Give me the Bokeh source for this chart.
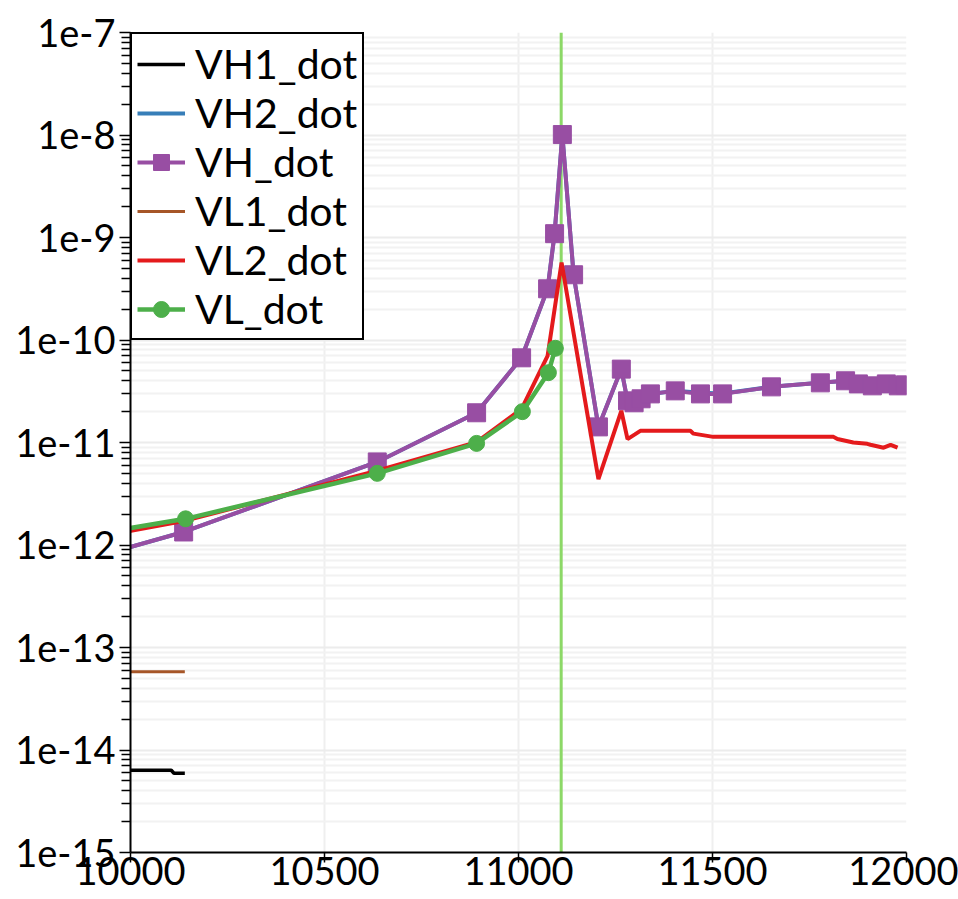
from bokeh.plotting import figure
from bokeh.models import (Range1d, FixedTicker, CustomJSTickFormatter, Span, Legend,
                          LegendItem)
from bokeh.embed import file_html
from bokeh.resources import INLINE

# ---------------- data ----------------
x_vh = [9880, 10137, 10636, 10892, 11008, 11075, 11093, 11113, 11142, 11206, 11265,
        11281, 11298, 11316, 11340, 11404, 11469, 11526, 11652, 11778, 11843, 11876,
        11912, 11948, 11979, 11997]
vh_dot = [7.1e-13, 1.34e-12, 6.46e-12, 1.95e-11, 6.7e-11, 3.16e-10, 1.09e-9, 1.01e-8,
          4.33e-10, 1.42e-11, 5.2e-11, 2.55e-11, 2.44e-11, 2.67e-11, 2.98e-11, 3.19e-11,
          2.98e-11, 2.98e-11, 3.49e-11, 3.82e-11, 4.0e-11, 3.73e-11, 3.57e-11, 3.73e-11,
          3.57e-11, 3.65e-11]
vh2_dot = [7.1e-13, 1.34e-12, 6.46e-12, 1.95e-11, 6.7e-11, 3.16e-10, 1.09e-9, 1.01e-8,
           4.33e-10, 1.42e-11, 5.2e-11, 2.55e-11, 2.44e-11, 2.67e-11, 2.98e-11, 3.19e-11,
           3.05e-11, 3.0e-11, 3.49e-11, 3.82e-11, 4.0e-11, 3.73e-11, 3.57e-11, 3.73e-11,
           3.57e-11, 3.65e-11]

x_vl = [9880, 10142, 10636, 10892, 11010, 11077, 11095]
vl_dot = [1.23e-12, 1.8e-12, 5.0e-12, 9.8e-12, 2.0e-11, 4.8e-11, 8.3e-11]

x_vl2 = [9880, 10137, 10636, 10892, 11008, 11075, 11111, 11206, 11265, 11281, 11300,
         11314, 11443, 11451, 11502, 11812, 11822, 11863, 11899, 11907, 11941, 11959,
         11977]
vl2_dot = [1.13e-12, 1.71e-12, 5.3e-12, 1.01e-11, 2.13e-11, 7.0e-11, 5.7e-10, 4.4e-12,
           2.04e-11, 1.08e-11, 1.2e-11, 1.3e-11, 1.3e-11, 1.22e-11, 1.135e-11, 1.135e-11,
           1.08e-11, 1.0e-11, 9.7e-12, 9.5e-12, 8.9e-12, 9.5e-12, 8.9e-12]

x_vl1 = [9880, 10140]
vl1_dot = [5.8e-14, 5.8e-14]

x_vh1 = [9880, 10105, 10112, 10140]
vh1_dot = [6.35e-15, 6.35e-15, 5.93e-15, 5.93e-15]

time_marker = 11110

x_ticks = [10000, 10500, 11000, 11500, 12000]
x_tick_labels = ["10000", "10500", "11000", "11500", "12000"]
y_ticks = [1e-15, 1e-14, 1e-13, 1e-12, 1e-11, 1e-10, 1e-9, 1e-8, 1e-7]
y_tick_labels = ["1e-15", "1e-14", "1e-13", "1e-12", "1e-11", "1e-10", "1e-9", "1e-8", "1e-7"]
y_minor = [k * 10.0 ** d for d in range(-15, -7) for k in range(2, 10)]

FONT = "Lato"

p = figure(width=958, height=899, output_backend="svg", toolbar_location=None,
           y_axis_type="log", x_range=Range1d(10000, 12000), y_range=Range1d(1e-15, 1e-7),
           min_border_left=130, min_border_right=52, min_border_top=32, min_border_bottom=47)
p.outline_line_color = None
p.background_fill_color = "white"

# axes
xt = FixedTicker(ticks=x_ticks)
yt = FixedTicker(ticks=y_ticks, minor_ticks=y_minor)
p.xaxis.ticker = xt
p.yaxis.ticker = yt
p.xgrid.ticker = xt
p.ygrid.ticker = yt

fmt_code = """
let best = 0, bd = Infinity;
for (let i = 0; i < tv.length; i++) {
  const d = Math.abs(tick - tv[i]) / Math.abs(tv[i]);
  if (d < bd) { bd = d; best = i; }
}
return tl[best];
"""
p.xaxis.formatter = CustomJSTickFormatter(args=dict(tv=x_ticks, tl=x_tick_labels), code=fmt_code)
p.yaxis.formatter = CustomJSTickFormatter(args=dict(tv=y_ticks, tl=y_tick_labels), code=fmt_code)

for ax in (p.xaxis[0], p.yaxis[0]):
    ax.axis_line_color = "black"
    ax.axis_line_width = 2
    ax.major_tick_line_color = "black"
    ax.major_tick_line_width = 1.5
    ax.minor_tick_line_color = "black"
    ax.minor_tick_line_width = 1.5
    ax.major_tick_in = 0
    ax.minor_tick_in = 0
    ax.major_label_text_font = FONT
    ax.major_label_text_font_size = "38px"
    ax.major_label_text_color = "black"

p.yaxis.major_tick_out = 11
p.yaxis.minor_tick_out = 9
p.yaxis.major_label_standoff = 4
p.xaxis.major_tick_out = 10
p.xaxis.minor_tick_out = 0
p.xaxis.major_label_standoff = -6

p.xgrid.grid_line_color = "#efefef"
p.xgrid.grid_line_width = 2
p.ygrid.grid_line_color = "#ececec"
p.ygrid.grid_line_width = 2
p.ygrid.minor_grid_line_color = "#f2f2f2"
p.ygrid.minor_grid_line_width = 2

# time marker
p.add_layout(Span(location=time_marker, dimension="height", line_color="#8cd867", line_width=3,
                  level="underlay"))

# series
r_vh1 = p.line(x_vh1, vh1_dot, line_color="black", line_width=3.5)
r_vh2 = p.line(x_vh, vh2_dot, line_color="#377eb8", line_width=4)
r_vh = p.line(x_vh, vh_dot, line_color="#984ea3", line_width=4)
r_vh_m = p.scatter(x_vh, vh_dot, marker="square", size=18, fill_color="#984ea3",
                   line_color="#984ea3")
r_vl1 = p.line(x_vl1, vl1_dot, line_color="#a65628", line_width=3)
r_vl2 = p.line(x_vl2, vl2_dot, line_color="#e41a1c", line_width=4)
r_vl = p.line(x_vl, vl_dot, line_color="#4daf4a", line_width=4.5)
r_vl_m = p.scatter(x_vl, vl_dot, marker="circle", size=16, fill_color="#4daf4a",
                   line_color="#4daf4a")

legend = Legend(items=[
    LegendItem(label="VH1_dot", renderers=[r_vh1]),
    LegendItem(label="VH2_dot", renderers=[r_vh2]),
    LegendItem(label="VH_dot", renderers=[r_vh, r_vh_m]),
    LegendItem(label="VL1_dot", renderers=[r_vl1]),
    LegendItem(label="VL2_dot", renderers=[r_vl2]),
    LegendItem(label="VL_dot", renderers=[r_vl, r_vl_m]),
], location="top_left", margin=0, padding=5, spacing=0,
   glyph_width=48, glyph_height=40, label_height=40, label_standoff=10,
   label_text_font=FONT, label_text_font_size="41px", label_text_color="black",
   border_line_color="black", border_line_width=2.5, border_line_alpha=1.0,
   background_fill_color="white", background_fill_alpha=1.0)
p.add_layout(legend, "center")

open("out.html", "w").write(file_html(p, INLINE))
